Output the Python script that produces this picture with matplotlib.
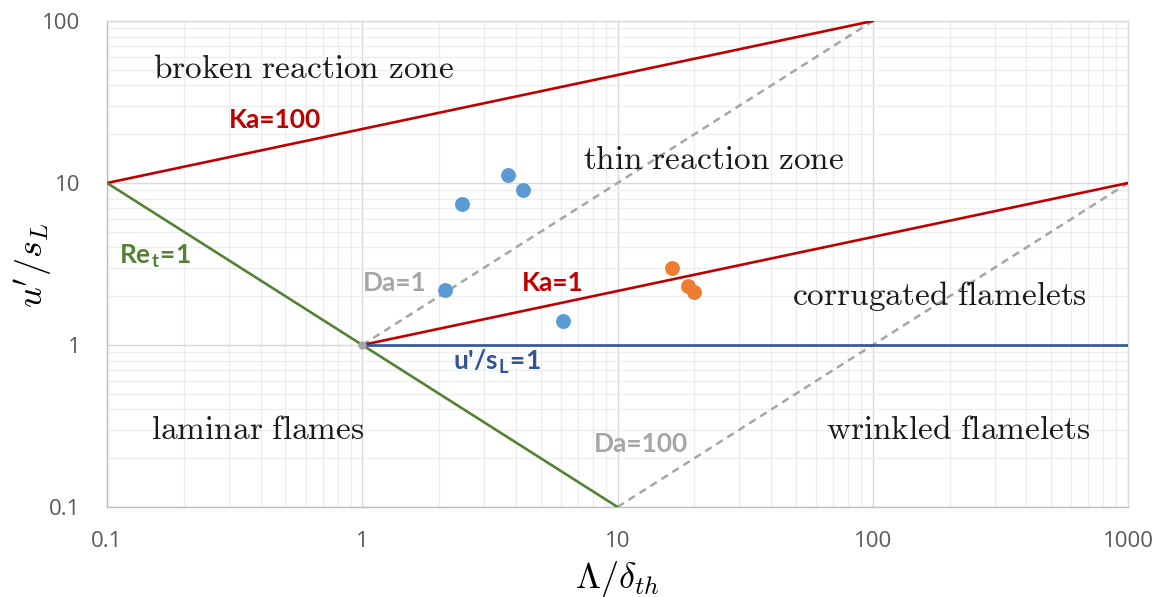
import matplotlib
matplotlib.use("Agg")
import matplotlib.pyplot as plt
from matplotlib.ticker import LogLocator, FixedLocator, FixedFormatter, NullFormatter

plt.rcParams['mathtext.fontset'] = 'cm'

# regime boundaries (Lambda/delta_th, u'/s_L)
ka100_x = [0.1, 100]
ka100_y = [10, 100]
ka1_x = [1, 1000]
ka1_y = [1, 10]
ret1_x = [0.1, 10]
ret1_y = [10, 0.1]
u1_x = [1, 1000]
u1_y = [1, 1]
da1_x = [1, 100]
da1_y = [1, 100]
da100_x = [10, 1000]
da100_y = [0.1, 10]

# measured cases
blue_x = [2.46, 3.72, 4.26, 2.11, 6.11]
blue_y = [7.45, 11.2, 9.1, 2.18, 1.41]
orange_x = [16.3, 18.9, 19.9]
orange_y = [3.0, 2.3, 2.12]

ticks = [0.1, 1, 10, 100, 1000]
tick_labels = ['0.1', '1', '10', '100', '1000']
yticks = [0.1, 1, 10, 100]
ytick_labels = ['0.1', '1', '10', '100']

RED = '#C00000'
GREEN = '#548235'
BLUE = '#2F5597'
GREY = '#A6A6A6'

fig = plt.figure(figsize=(11.61, 5.97), dpi=100)
ax = fig.add_axes([0.0922, 0.1508, 0.8794, 0.8140])
ax.set_xscale('log')
ax.set_yscale('log')
ax.set_xlim(0.1, 1000)
ax.set_ylim(0.1, 100)

ax.xaxis.set_major_locator(FixedLocator(ticks))
ax.xaxis.set_major_formatter(FixedFormatter(tick_labels))
ax.yaxis.set_major_locator(FixedLocator(yticks))
ax.yaxis.set_major_formatter(FixedFormatter(ytick_labels))
ax.xaxis.set_minor_locator(LogLocator(base=10, subs=range(2, 10), numticks=20))
ax.yaxis.set_minor_locator(LogLocator(base=10, subs=range(2, 10), numticks=20))
ax.xaxis.set_minor_formatter(NullFormatter())
ax.yaxis.set_minor_formatter(NullFormatter())

ax.grid(True, which='major', color='#D9D9D9', lw=1.0, zorder=0)
ax.grid(True, which='minor', color='#EDEDED', lw=0.9, zorder=0)
ax.set_axisbelow(True)
for s in ax.spines.values():
    s.set_color('#D9D9D9')
    s.set_linewidth(1.0)
ax.spines['left'].set_color('#BFBFBF')
ax.spines['bottom'].set_color('#BFBFBF')

ax.tick_params(which='both', length=0)
ax.tick_params(axis='x', pad=17, labelsize=16, labelcolor='#595959')
ax.tick_params(axis='y', pad=19, labelsize=16, labelcolor='#595959')
for lab in ax.get_xticklabels() + ax.get_yticklabels():
    lab.set_fontfamily('Open Sans')

ax.plot(ka100_x, ka100_y, color=RED, lw=1.9, zorder=3)
ax.plot(ka1_x, ka1_y, color=RED, lw=1.9, zorder=3)
ax.plot(ret1_x, ret1_y, color=GREEN, lw=1.9, zorder=3)
ax.plot(u1_x, u1_y, color=BLUE, lw=1.9, zorder=3)
ax.plot(da1_x, da1_y, color=GREY, lw=1.8, ls=(0, (3, 2.2)), zorder=2)
ax.plot(da100_x, da100_y, color=GREY, lw=1.8, ls=(0, (3, 2.2)), zorder=2)
ax.plot([1], [1], 'o', color=GREY, ms=5, zorder=4)

ax.scatter(blue_x, blue_y, s=115, color='#5B9BD5', zorder=5, linewidths=0)
ax.scatter(orange_x, orange_y, s=115, color='#ED7D31', zorder=5, linewidths=0)

# regime names
reg = dict(fontsize=24, color='#1a1a1a', ha='center', va='center')
ax.text(0.59, 51, r'$\mathrm{broken\ reaction\ zone}$', **reg)
ax.text(23.7, 13.9, r'$\mathrm{thin\ reaction\ zone}$', **reg)
ax.text(183, 2.02, r'$\mathrm{corrugated\ flamelets}$', **reg)
ax.text(0.39, 0.30, r'$\mathrm{laminar\ flames}$', **reg)
ax.text(216, 0.30, r'$\mathrm{wrinkled\ flamelets}$', **reg)

# line labels
lab = dict(fontsize=19, fontweight='bold', family='Lato', ha='center', va='center')
ax.text(0.455, 24.5, 'Ka=100', color=RED, **lab)
ax.text(0.154, 3.52, r'Re$_\mathregular{t}$=1', color=GREEN, **lab)
ax.text(1.34, 2.40, 'Da=1', color=GREY, **lab)
ax.text(5.58, 2.40, 'Ka=1', color=RED, **lab)
ax.text(3.37, 0.79, r"u'/s$_\mathregular{L}$=1", color=BLUE, **lab)
ax.text(12.4, 0.244, 'Da=100', color=GREY, **lab)

fig.text(617 / 1161, 1 - 579 / 597, r'$\Lambda/\delta_{th}$', fontsize=26, ha='center', va='center')
fig.text(33 / 1161, 1 - 265 / 597, r"$u'/s_L$", fontsize=26, rotation=90, ha='center', va='center')

fig.savefig('out.png', dpi=100)
